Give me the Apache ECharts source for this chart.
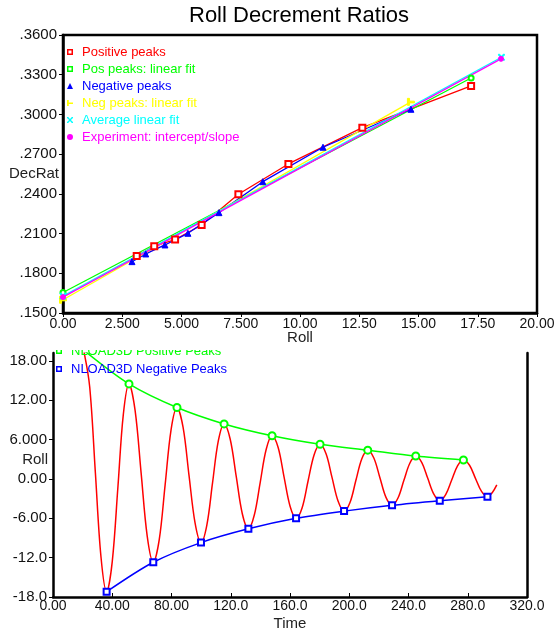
<!DOCTYPE html>
<html>
<head>
<meta charset="utf-8">
<title>Roll Decrement Ratios</title>
<script src="https://cdn.jsdelivr.net/npm/echarts@6/dist/echarts.min.js"></script>
<style>
  html, body { margin: 0; padding: 0; background: #fff; }
  #chart { width: 555px; height: 633px; }
</style>
</head>
<body>
<div id="chart"></div>
<script>
// --- Upper panel: decrement ratio vs roll amplitude ---
const posPeakRoll = [3.11, 3.85, 4.73, 5.85, 7.40, 9.51, 12.63, 17.22];
const posPeakRatio = [0.1930, 0.2005, 0.2055, 0.2165, 0.2397, 0.2626, 0.2900, 0.3215];
const negPeakRoll = [2.91, 3.49, 4.30, 5.27, 6.58, 8.43, 10.97, 14.68];
const negPeakRatio = [0.1888, 0.1946, 0.2014, 0.2102, 0.2258, 0.2492, 0.2752, 0.3039];
const posFitRoll = [0, 17.22];
const posFitRatio = [0.1655, 0.3275];
const negFitRoll = [0, 14.68];
const negFitRatio = [0.1600, 0.3095];
const avgFitRoll = [0, 18.5];
const avgFitRatio = [0.1628, 0.3432];
const expRoll = [0, 18.48];
const expRatio = [0.1620, 0.3420];

const topXLabels = ['0.00', '2.500', '5.000', '7.500', '10.00', '12.50', '15.00', '17.50', '20.00'];
const topYLabels = ['.1500', '.1800', '.2100', '.2400', '.2700', '.3000', '.3300', '.3600'];

// --- Lower panel: roll time history and its peak envelopes ---
const rollTime = [
  21, 24.8, 28.6, 32.4, 36.2, 40.0, 43.8, 47.5,
  51.3, 55.4, 59.5, 63.6, 67.7, 71.7, 75.7, 79.7,
  83.7, 87.8, 91.8, 95.9, 99.9, 103.8, 107.7, 111.6,
  115.5, 119.6, 123.7, 127.8, 131.9, 135.9, 139.9, 143.9,
  147.9, 152.0, 156.0, 160.1, 164.1, 168.2, 172.2, 176.3,
  180.3, 184.4, 188.4, 192.5, 196.5, 200.5, 204.5, 208.5,
  212.5, 216.6, 220.7, 224.8, 228.9, 232.9, 236.9, 240.9,
  244.9, 249.0, 253.0, 257.1, 261.1, 265.1, 269.1, 273.1,
  277.1, 281.2, 285.2, 289.3, 293.3, 296.5, 299.6];
const rollValue = [
  19.3, 14.0, 1.0, -11.9, -17.2, -12.6, -1.3, 9.9,
  14.5, 10.5, 0.9, -8.7, -12.7, -9.3, -0.9, 7.5,
  10.9, 7.9, 0.6, -6.7, -9.7, -7.1, -0.6, 5.8,
  8.4, 6.1, 0.4, -5.3, -7.6, -5.5, -0.5, 4.5,
  6.6, 4.8, 0.3, -4.2, -6.0, -4.4, -0.3, 3.7,
  5.3, 3.8, 0.2, -3.4, -4.9, -3.6, -0.2, 3.1,
  4.4, 3.2, 0.2, -2.8, -4.0, -2.9, -0.2, 2.4,
  3.5, 2.5, 0.1, -2.3, -3.3, -2.4, -0.2, 2.0,
  2.9, 2.1, 0.1, -1.9, -2.7, -2.1, -0.9];
const posEnvTime = [21, 51.3, 83.7, 115.5, 147.9, 180.3, 212.5, 244.9, 277.1];
const posEnvValue = [19.6, 14.5, 10.9, 8.4, 6.6, 5.3, 4.4, 3.5, 2.9];
const negEnvTime = [36.2, 67.7, 99.9, 131.9, 164.1, 196.5, 228.9, 261.1, 293.3];
const negEnvValue = [-17.2, -12.7, -9.7, -7.6, -6.0, -4.9, -4.0, -3.3, -2.7];

const botXLabels = ['0.00', '40.00', '80.00', '120.0', '160.0', '200.0', '240.0', '280.0', '320.0'];
const botYTicks = [-18, -12, -6, 0, 6, 12, 18];
const botYLabels = ['-18.0', '-12.0', '-6.00', '0.00', '6.000', '12.00', '18.00'];

const FONT = '"Liberation Sans", Arial, sans-serif';
const RED = '#ff0000', GREEN = '#00ff00', BLUE = '#0000ff';
const YELLOW = '#ffff00', CYAN = '#00ffff', MAGENTA = '#ff00ff';

// small legend glyphs (path icons keep their aspect inside the legend box)
const ICON_SQ = 'path://M0,0h10v10h-10zM2.5,2.5v5h5v-5z';
const ICON_TRI = 'path://M5,0L10,10H0z';
const ICON_Y = 'path://M0,0h3v4h7v2.5h-7v3.5h-3z';
const ICON_X = 'path://M0,0h2l3,3.5l3,-3.5h2v1.5l-3.5,3.5l3.5,3.5v1.5h-2l-3,-3.5l-3,3.5h-2v-1.5l3.5,-3.5l-3.5,-3.5z';
const ICON_DOT = 'path://M5,0A5,5,0,1,1,4.99,0z';

const zip = (xs, ys) => xs.map((x, i) => [x, ys[i]]);

const axisLine = { show: true, onZero: false, lineStyle: { color: '#000', width: 2.5 } };
const nameStyle = { color: '#222', fontSize: 15, fontFamily: FONT };

function topSeries(name, xs, ys, color, symbol, size) {
  return {
    name, type: 'line', xAxisIndex: 0, yAxisIndex: 0,
    data: zip(xs, ys), color, symbol, symbolSize: size,
    lineStyle: { width: 1.3, color }, itemStyle: { color, borderColor: color }
  };
}

const chart = echarts.init(document.getElementById('chart'), null, { renderer: 'canvas' });

chart.setOption({
  backgroundColor: '#fff',
  animation: false,
  textStyle: { fontFamily: FONT },
  title: {
    text: 'Roll Decrement Ratios', left: 189, top: 5, padding: 0,
    textStyle: { color: '#000', fontSize: 22, fontWeight: 'normal', fontFamily: FONT }
  },
  grid: [
    { left: 63, right: 18, top: 35, height: 278, show: true, borderColor: '#000', borderWidth: 2.5,
      outerBoundsMode: 'none', containLabel: false },
    { left: 53, right: 28, top: 353, bottom: 36, outerBoundsMode: 'none', containLabel: false }
  ],
  legend: [
    {
      orient: 'vertical', left: 67, top: 45.5, padding: 0,
      itemWidth: 14, itemHeight: 6, itemGap: 4, selectedMode: false,
      textStyle: { fontSize: 13, fontFamily: FONT },
      data: [
        { name: 'Positive peaks', icon: ICON_SQ, textStyle: { color: RED } },
        { name: 'Pos peaks: linear fit', icon: ICON_SQ, textStyle: { color: GREEN } },
        { name: 'Negative peaks', icon: ICON_TRI, textStyle: { color: BLUE } },
        { name: 'Neg peaks: linear fit', icon: ICON_Y, textStyle: { color: YELLOW } },
        { name: 'Average linear fit', icon: ICON_X, textStyle: { color: CYAN } },
        { name: 'Experiment: intercept/slope', icon: ICON_DOT, textStyle: { color: MAGENTA } }
      ]
    },
    {
      orient: 'vertical', left: 56, top: 344.5, padding: 0,
      itemWidth: 14, itemHeight: 6, itemGap: 5, selectedMode: false,
      textStyle: { fontSize: 13, fontFamily: FONT },
      data: [
        { name: 'NLOAD3D Positive Peaks', icon: ICON_SQ, textStyle: { color: GREEN } },
        { name: 'NLOAD3D Negative Peaks', icon: ICON_SQ, textStyle: { color: BLUE } }
      ]
    }
  ],
  // the lower legend's first line is cut off by the panel above it
  graphic: [
    { type: 'rect', left: 55, top: 337, shape: { width: 200, height: 13 }, style: { fill: '#fff' }, z: 100 }
  ],
  xAxis: [
    {
      gridIndex: 0, type: 'value', min: 0, max: 20, interval: 2.5,
      axisLine, axisTick: { show: true, length: 4, lineStyle: { color: '#000', width: 1 } },
      axisLabel: { color: '#111', fontSize: 14, margin: 4, formatter: v => topXLabels[Math.round(v / 2.5)] },
      splitLine: { show: false },
      name: 'Roll', nameLocation: 'middle', nameGap: 17, nameMoveOverlap: false, nameTextStyle: nameStyle
    },
    {
      gridIndex: 1, type: 'value', min: 0, max: 320, interval: 40,
      axisLine, axisTick: { show: true, inside: true, length: 4, lineStyle: { color: '#000', width: 1 } },
      axisLabel: { color: '#111', fontSize: 14, margin: 2, formatter: v => botXLabels[Math.round(v / 40)] },
      splitLine: { show: false },
      name: 'Time', nameLocation: 'middle', nameGap: 19, nameMoveOverlap: false, nameTextStyle: nameStyle
    }
  ],
  yAxis: [
    {
      gridIndex: 0, type: 'value', min: 0.15, max: 0.36, interval: 0.03,
      axisLine, axisTick: { show: true, length: 4, lineStyle: { color: '#000', width: 1 } },
      axisLabel: { color: '#111', fontSize: 15, margin: 6, formatter: v => topYLabels[Math.round((v - 0.15) / 0.03)] },
      splitLine: { show: false },
      name: 'DecRat', nameLocation: 'middle', nameRotate: 0, nameGap: 4, nameMoveOverlap: false,
      nameTextStyle: nameStyle
    },
    {
      gridIndex: 1, type: 'value', min: -18, max: 19.22,
      axisLine, axisTick: { show: true, length: 4, customValues: botYTicks, lineStyle: { color: '#000', width: 1 } },
      axisLabel: { color: '#111', fontSize: 15, margin: 6, customValues: botYTicks,
        formatter: v => botYLabels[Math.round((v + 18) / 6)] },
      splitLine: { show: false },
      // two blank lines lift the name to sit between the 6.000 and 0.00 labels
      name: 'Roll\n \n ', nameLocation: 'middle', nameRotate: 0, nameGap: 5, nameMoveOverlap: false,
      nameTextStyle: Object.assign({ lineHeight: 15 }, nameStyle)
    },
    {
      gridIndex: 1, type: 'value', position: 'right', min: -18, max: 19.22,
      axisLine, axisTick: { show: false }, axisLabel: { show: false }, splitLine: { show: false }
    }
  ],
  series: [
    topSeries('Positive peaks', posPeakRoll, posPeakRatio, RED, 'emptyRect', 6),
    topSeries('Pos peaks: linear fit', posFitRoll, posFitRatio, GREEN, 'emptyCircle', 5),
    topSeries('Negative peaks', negPeakRoll, negPeakRatio, BLUE, 'triangle', 6),
    topSeries('Neg peaks: linear fit', negFitRoll, negFitRatio, YELLOW, ICON_Y, 7),
    topSeries('Average linear fit', avgFitRoll, avgFitRatio, CYAN, ICON_X, 6),
    topSeries('Experiment: intercept/slope', expRoll, expRatio, MAGENTA, 'circle', 5),
    {
      name: 'Roll history', type: 'line', xAxisIndex: 1, yAxisIndex: 1,
      data: zip(rollTime, rollValue), smooth: 0.35, symbol: 'none',
      lineStyle: { color: RED, width: 1.5 }, color: RED
    },
    {
      name: 'NLOAD3D Positive Peaks', type: 'line', xAxisIndex: 1, yAxisIndex: 1,
      data: zip(posEnvTime, posEnvValue), smooth: 0.3, symbol: 'emptyCircle', symbolSize: 7,
      lineStyle: { color: GREEN, width: 1.5 }, color: GREEN, itemStyle: { color: GREEN, borderColor: GREEN }
    },
    {
      name: 'NLOAD3D Negative Peaks', type: 'line', xAxisIndex: 1, yAxisIndex: 1,
      data: zip(negEnvTime, negEnvValue), smooth: 0.3, symbol: 'emptyRect', symbolSize: 6,
      lineStyle: { color: BLUE, width: 1.5 }, color: BLUE, itemStyle: { color: BLUE, borderColor: BLUE }
    }
  ]
});
</script>
</body>
</html>
